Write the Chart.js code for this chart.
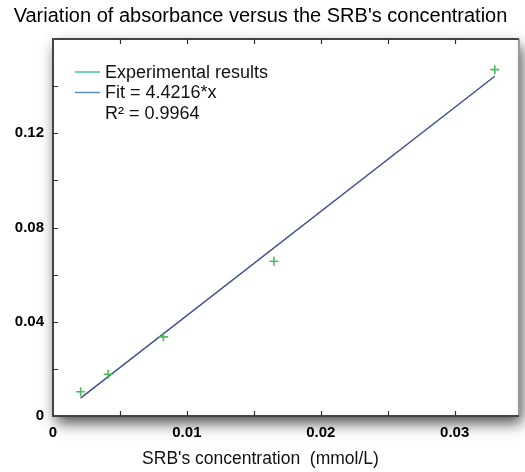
<!DOCTYPE html>
<html>
<head>
<meta charset="utf-8">
<script src="https://cdn.jsdelivr.net/npm/chart.js@4.4.1/dist/chart.umd.min.js"></script>
<style>
body { margin:0; background:#fff; }
</style>
</head>
<body>
<canvas id="chartA" width="525" height="472"></canvas>
<script>
// values
var concX = [0.00206, 0.00412, 0.00825, 0.0165, 0.033];
var absorbY = [0.0103, 0.0177, 0.0336, 0.0657, 0.147];
var fitX = [0.00206, 0.033];
var fitY = [0.0076, 0.1442];
var r2Text = "R\u00b2 = 0.9964";
var xStep = 0.005, yStep = 0.02;
var xMax = 0.0348, yMax = 0.16;

function toPts(xs, ys) {
    var out = [];
    for (var i = 0; i < xs.length; i++) out.push({x: xs[i], y: ys[i]});
    return out;
}
function onStep(v, s) {
    return Math.abs(Math.round(v / s) * s - v) < 1e-9;
}

var fontName = "'Liberation Sans', Arial, sans-serif";

// white box with shadow, border, inward ticks, legend inside the plot
var frame = {
    id: 'frame',
    beforeDraw: function(c) {
        var ctx = c.ctx, a = c.chartArea;
        ctx.save();
        ctx.fillStyle = '#fff';
        ctx.fillRect(0, 0, c.width, c.height);
        ctx.shadowColor = 'rgba(0,0,0,0.7)';
        ctx.shadowBlur = 14;
        ctx.shadowOffsetX = 3;
        ctx.shadowOffsetY = 7;
        ctx.fillRect(a.left, a.top, a.right - a.left, a.bottom - a.top);
        ctx.restore();
    },
    afterDraw: function(c) {
        var ctx = c.ctx, a = c.chartArea;
        var xs = c.scales.x, ys = c.scales.y;
        ctx.save();
        ctx.lineWidth = 2;
        ctx.strokeStyle = '#999';
        ctx.beginPath();
        ctx.moveTo(a.right, a.top); ctx.lineTo(a.right, a.bottom);
        ctx.stroke();
        ctx.strokeStyle = '#444';
        ctx.beginPath();
        ctx.moveTo(a.right, a.top); ctx.lineTo(a.left, a.top);
        ctx.lineTo(a.left, a.bottom); ctx.lineTo(a.right, a.bottom);
        ctx.stroke();

        ctx.lineWidth = 1.2;
        ctx.strokeStyle = '#333';
        ctx.beginPath();
        xs.ticks.forEach(function(t) {
            if (!onStep(t.value, xStep) || t.value <= 0) return;
            var p = Math.round(xs.getPixelForValue(t.value)) + 0.5;
            ctx.moveTo(p, a.bottom); ctx.lineTo(p, a.bottom - 5);
            ctx.moveTo(p, a.top); ctx.lineTo(p, a.top + 5);
        });
        ys.ticks.forEach(function(t) {
            if (!onStep(t.value, yStep) || t.value <= 0 || t.value >= yMax) return;
            var p = Math.round(ys.getPixelForValue(t.value)) + 0.5;
            ctx.moveTo(a.left, p); ctx.lineTo(a.left + 5, p);
        });
        ctx.stroke();

        // legend
        var ds = c.data.datasets;
        var rows = [ds[0].label, ds[1].label, r2Text];
        var cols = ['#3cc49a', '#5b8fc4', null];
        ctx.font = '18px ' + fontName;
        ctx.textBaseline = 'middle';
        ctx.fillStyle = '#111';
        for (var i = 0; i < rows.length; i++) {
            var y = a.top + 33 + i * 20.5;
            if (cols[i]) {
                ctx.strokeStyle = cols[i];
                ctx.lineWidth = 1.5;
                ctx.beginPath();
                ctx.moveTo(a.left + 22, y); ctx.lineTo(a.left + 47, y);
                ctx.stroke();
            }
            ctx.fillText(rows[i], a.left + 52, y + 1);
        }
        ctx.restore();
    }
};

var ctx = document.getElementById("chartA");
var chartA = new Chart(ctx, {
    type: "scatter",
    data: {
        datasets: [{
            label: "Experimental results",
            data: toPts(concX, absorbY),
            borderColor: '#4cbb5c',
            backgroundColor: '#4cbb5c',
            pointStyle: 'cross',
            pointRadius: 4.5,
            borderWidth: 1.6,
            showLine: false,
        },{
            label: "Fit = 4.4216*x",
            data: toPts(fitX, fitY),
            borderColor: '#3e5191',
            showLine: true,
            pointRadius: 0,
            borderWidth: 1.5,
        }]
    },
    options: {
        responsive: false,
        devicePixelRatio: 1,
        animation: false,
        layout: { padding: { left: 0, right: 4, top: 0, bottom: 0 } },
        plugins: {
            legend: { display: false },
            tooltip: { enabled: false },
            title: {
                display: true,
                text: "Variation of absorbance versus the SRB's concentration",
                color: '#000',
                font: { family: fontName, size: 20, weight: 'normal' },
                padding: { top: 4, bottom: 11 }
            },
            subtitle: {
                display: true,
                position: 'bottom',
                text: "SRB's concentration  (mmol/L)",
                color: '#111',
                font: { family: fontName, size: 17.5, weight: 'normal' },
                padding: { top: 0, bottom: 2 }
            }
        },
        scales: {
            x: {
                type: 'linear',
                min: 0, max: xMax,
                grid: { display: false, drawTicks: false },
                border: { display: false },
                afterFit: function(s) { s.height = 33; },
                ticks: {
                    stepSize: xStep,
                    includeBounds: false,
                    padding: 8,
                    color: '#000',
                    font: { family: fontName, size: 15, weight: 'bold' },
                    maxRotation: 0,
                    autoSkip: false,
                    callback: function(v) {
                        if (v === 0) return '0';
                        return onStep(v, 0.01) ? v.toFixed(2) : '';
                    }
                }
            },
            y: {
                min: 0, max: yMax,
                grid: { display: false, drawTicks: false },
                border: { display: false },
                afterFit: function(s) { s.width = 53; },
                ticks: {
                    stepSize: yStep,
                    padding: 9,
                    color: '#000',
                    font: { family: fontName, size: 15, weight: 'bold' },
                    autoSkip: false,
                    callback: function(v) {
                        if (v === 0) return '0';
                        if (v >= yMax) return '';
                        return onStep(v, 0.04) ? v.toFixed(2) : '';
                    }
                }
            }
        }
    },
    plugins: [frame]
});
</script>
</body>
</html>
